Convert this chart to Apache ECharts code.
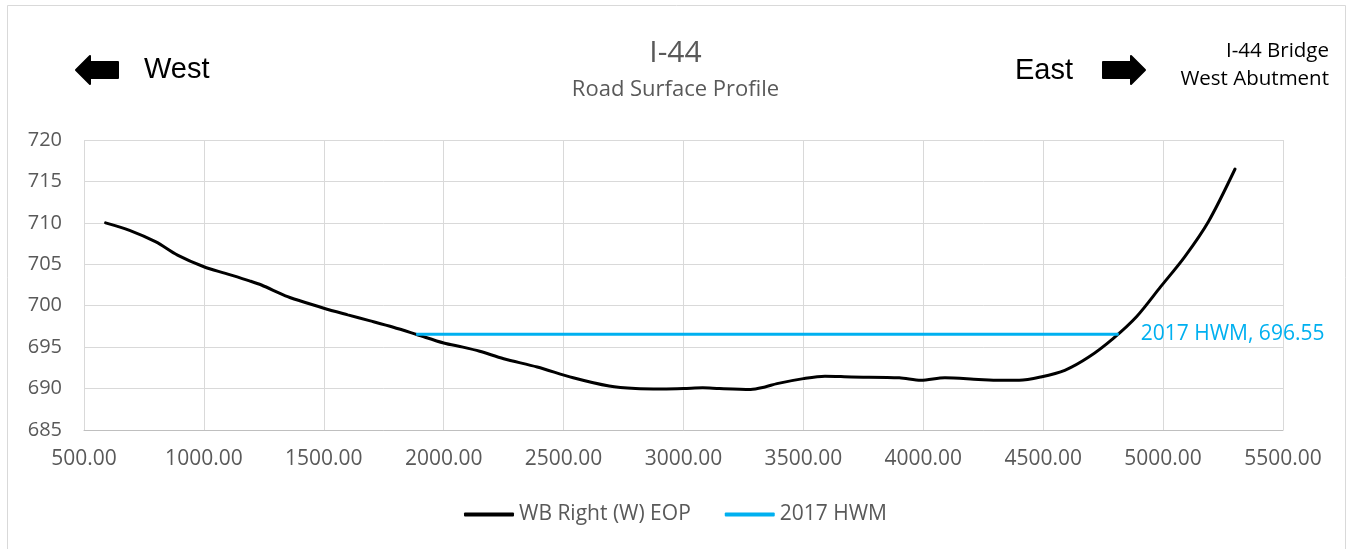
<!DOCTYPE html>
<html>
<head>
<meta charset="utf-8">
<title>I-44 Road Surface Profile</title>
<script src="https://cdn.jsdelivr.net/npm/echarts@6/dist/echarts.min.js"></script>
<style>
    html, body { margin: 0; padding: 0; background: #fff; }
    #profileChart { width: 1351px; height: 549px; }
</style>
</head>
<body>
<div id="profileChart"></div>
<script>
// Station (ft) dan elevasi jalan
var stations = [590, 690, 800, 890, 1000, 1090, 1190, 1240, 1340, 1400, 1500, 1600, 1690, 1790, 1890,
    2000, 2080, 2150, 2250, 2390, 2540, 2690, 2800, 2910, 3000, 3080, 3150, 3280, 3340, 3390, 3500, 3590,
    3700, 3900, 3990, 4090, 4230, 4320, 4400, 4490, 4590, 4690, 4790, 4890, 4990, 5090, 5190, 5300];
var elevations = [710.0, 709.1, 707.7, 706.1, 704.7, 703.9, 703.0, 702.5, 701.2, 700.6, 699.7, 698.9, 698.2, 697.4, 696.5,
    695.5, 695.0, 694.5, 693.6, 692.6, 691.3, 690.3, 690.0, 689.95, 690.0, 690.1, 690.0, 689.9, 690.2, 690.6, 691.2, 691.5,
    691.4, 691.3, 691.0, 691.3, 691.1, 691.0, 691.0, 691.4, 692.2, 693.8, 696.0, 698.7, 702.3, 705.9, 710.2, 716.5];

// Garis muka air banjir 2017
var hwmStations = [1885, 4815];
var hwmLevel = 696.55;

var seriesNames = ['WB Right (W) EOP', '2017 HWM'];

document.addEventListener('DOMContentLoaded', function() {
    var chart = echarts.init(document.getElementById('profileChart'));
    var font = '"Open Sans", sans-serif';
    var grey = '#595959';

    var roadData = stations.map(function (s, i) { return [s, elevations[i]]; });
    var hwmData = hwmStations.map(function (s) { return [s, hwmLevel]; });

    var option = {
        backgroundColor: '#fff',
        animation: false,
        title: [
            {
                text: 'I-44',
                left: 'center',
                top: 33,
                textStyle: { fontFamily: font, fontSize: 30, fontWeight: 'normal', color: grey }
            },
            {
                text: 'Road Surface Profile',
                left: 'center',
                top: 74,
                textStyle: { fontFamily: font, fontSize: 22, fontWeight: 'normal', color: grey }
            }
        ],
        graphic: [
            {
                type: 'rect',
                shape: { x: 7.5, y: 5.5, width: 1338, height: 560 },
                style: { fill: 'none', stroke: '#d9d9d9', lineWidth: 1 },
                silent: true
            },
            {
                // panah ke barat
                type: 'polygon',
                shape: { points: [[76, 70], [90, 56], [90, 62], [118, 62], [118, 78], [90, 78], [90, 84]] },
                style: { fill: '#000', stroke: '#000', lineWidth: 2, lineJoin: 'round' }
            },
            {
                type: 'text',
                style: { text: 'West', x: 144, y: 70, fontFamily: '"Liberation Sans", Arial, sans-serif', fontSize: 29, fill: '#000', verticalAlign: 'middle' }
            },
            {
                type: 'text',
                style: { text: 'East', x: 1015, y: 71, fontFamily: '"Liberation Sans", Arial, sans-serif', fontSize: 29, fill: '#000', verticalAlign: 'middle' }
            },
            {
                // panah ke timur
                type: 'polygon',
                shape: { points: [[1145, 70], [1131, 56], [1131, 62], [1103, 62], [1103, 78], [1131, 78], [1131, 84]] },
                style: { fill: '#000', stroke: '#000', lineWidth: 2, lineJoin: 'round' }
            },
            {
                type: 'text',
                style: { text: 'I-44 Bridge\nWest Abutment', x: 1329, y: 65, align: 'right', verticalAlign: 'middle', lineHeight: 28, fontFamily: font, fontSize: 20.5, fill: '#000' }
            }
        ],
        legend: {
            bottom: 19,
            left: 'center',
            icon: 'roundRect',
            itemWidth: 50,
            itemHeight: 4,
            itemGap: 34,
            textStyle: { fontFamily: font, fontSize: 21, color: grey },
            data: seriesNames
        },
        grid: {
            left: 84,
            right: 68,
            top: 140,
            bottom: 119
        },
        xAxis: {
            type: 'value',
            min: 500,
            max: 5500,
            interval: 500,
            axisLine: { show: true, lineStyle: { color: '#bfbfbf', width: 1 } },
            axisTick: { show: false },
            splitLine: { show: true, lineStyle: { color: '#d9d9d9', width: 1 } },
            axisLabel: {
                fontFamily: font,
                fontSize: 21,
                color: grey,
                margin: 19,
                formatter: function (v) { return v.toFixed(2); }
            }
        },
        yAxis: {
            type: 'value',
            min: 685,
            max: 720,
            interval: 5,
            axisLine: { show: false },
            axisTick: { show: false },
            splitLine: { show: true, lineStyle: { color: '#d9d9d9', width: 1 } },
            axisLabel: { fontFamily: font, fontSize: 20, color: grey, margin: 22 }
        },
        series: [
            {
                name: seriesNames[0],
                type: 'line',
                data: roadData,
                symbol: 'none',
                smooth: 0.3,
                lineStyle: { color: '#000', width: 3, cap: 'round' },
                itemStyle: { color: '#000' }
            },
            {
                name: seriesNames[1],
                type: 'line',
                data: hwmData,
                symbol: 'none',
                lineStyle: { color: '#00B0F0', width: 3 },
                itemStyle: { color: '#00B0F0' },
                endLabel: {
                    show: true,
                    distance: 22,
                    fontFamily: font,
                    fontSize: 21,
                    color: '#00B0F0',
                    formatter: function () { return seriesNames[1] + ', ' + hwmLevel.toFixed(2); }
                }
            }
        ]
    };
    chart.setOption(option);

    window.addEventListener('resize', function() {
        chart.resize();
    });
});
</script>
</body>
</html>
